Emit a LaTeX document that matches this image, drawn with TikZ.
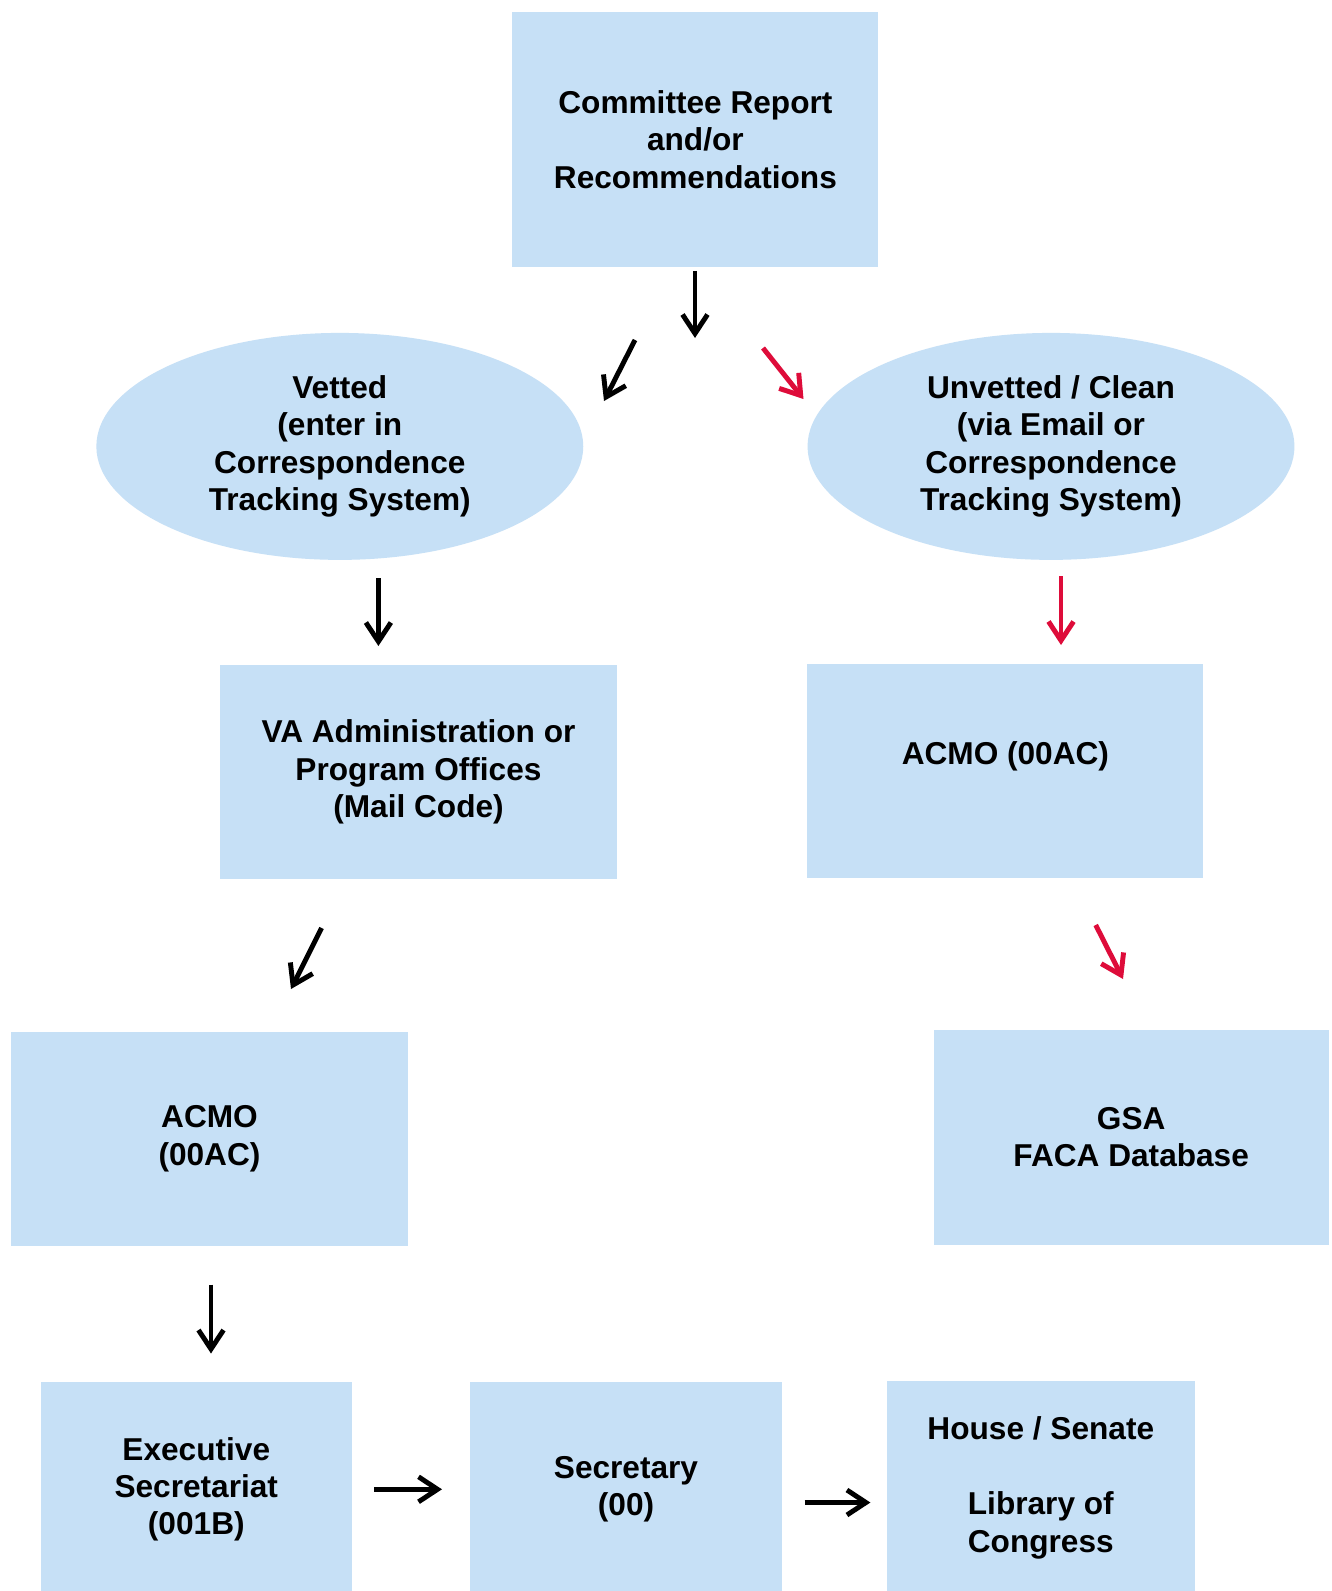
\documentclass[tikz,border=0pt]{standalone}
\usepackage{fontspec}
\setmainfont{Liberation Sans}
\usetikzlibrary{shapes.geometric,arrows.meta}
\definecolor{boxblue}{RGB}{198,224,246}
\definecolor{red}{RGB}{222,12,58}

\tikzset{
  box/.style={fill=boxblue, draw=none, align=center, inner sep=0pt,
    font=\bfseries\fontsize{18}{21.3}\selectfont},
  oval/.style={box, ellipse, minimum width=9.74cm, minimum height=4.54cm},
  arr/.style={-{Straight Barb[length=3.8mm,width=5mm]}, line width=2.8pt},
  redarr/.style={arr, red}
}

\begin{document}
\begin{tikzpicture}[x=0.02cm, y=-0.02cm]

% page
\clip (0,0) rectangle (1331,1591);
\fill[white] (0,0) rectangle (1331,1591);

% Top
\node[box, minimum width=7.32cm, minimum height=5.1cm] (report) at (695.4,139.5)
  {Committee Report\\and/or\\Recommendations};

% Ellipses
\node[oval] (vetted) at (339.8,446.4)
  {Vetted\\(enter in\\Correspondence\\Tracking System)};
\node[oval] (unvetted) at (1051,446.4)
  {Unvetted / Clean\\(via Email or\\Correspondence\\Tracking System)};

% Middle row
\node[box, minimum width=7.94cm, minimum height=4.3cm] (vaoffice) at (418.5,772)
  {VA Administration or\\Program Offices\\(Mail Code)};
\node[box, minimum width=7.92cm, minimum height=4.3cm] (acmoR) at (1005.4,771)
  {ACMO (00AC)\\[-7pt] \strut};

% Third row
\node[box, minimum width=7.93cm, minimum height=4.28cm] (acmoL) at (209.5,1138.8)
  {ACMO\\(00AC)};
\node[box, minimum width=7.91cm, minimum height=4.3cm] (gsa) at (1131.2,1137.3)
  {GSA\\FACA Database};

% Bottom row
\node[box, minimum width=6.23cm, minimum height=4.3cm] (execsec) at (196.3,1489.3)
  {Executive\\Secretariat\\(001B)};
\node[box, minimum width=6.25cm, minimum height=4.3cm] (secretary) at (626,1489.3)
  {Secretary\\(00)};
\node[box, minimum width=6.17cm, minimum height=4.3cm] (congress) at (1040.8,1488)
  {House / Senate\\ \strut\\Library of\\Congress};

% Arrow ends
\coordinate (a1s) at (695,271);    \coordinate (a1e) at (695,338);
\coordinate (a2s) at (635,340);    \coordinate (a2e) at (604,401);
\coordinate (a3s) at (763,348);    \coordinate (a3e) at (803.5,399);
\coordinate (a4s) at (378.4,578);  \coordinate (a4e) at (378.4,646);
\coordinate (a5s) at (1061,576);   \coordinate (a5e) at (1061,645);
\coordinate (a6s) at (321.6,928);  \coordinate (a6e) at (291,989);
\coordinate (a7s) at (1095.7,925); \coordinate (a7e) at (1123,979);
\coordinate (a8s) at (211,1284.5); \coordinate (a8e) at (211,1353.5);
\coordinate (a9s) at (374,1489.3); \coordinate (a9e) at (442,1489.3);
\coordinate (a10s) at (804.5,1502.5); \coordinate (a10e) at (870.4,1502.5);

% Arrows
\draw[arr] (a1s) -- (a1e);
\draw[arr] (a2s) -- (a2e);
\draw[redarr] (a3s) -- (a3e);
\draw[arr] (a4s) -- (a4e);
\draw[redarr] (a5s) -- (a5e);
\draw[arr] (a6s) -- (a6e);
\draw[redarr] (a7s) -- (a7e);
\draw[arr] (a8s) -- (a8e);
\draw[arr] (a9s) -- (a9e);
\draw[arr] (a10s) -- (a10e);

\end{tikzpicture}
\end{document}
